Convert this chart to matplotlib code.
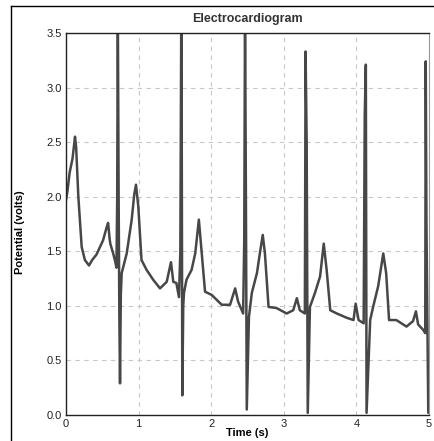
import matplotlib
matplotlib.use('Agg')
import matplotlib.pyplot as plt
from matplotlib.lines import Line2D

plt.rcParams['font.family'] = ['Liberation Sans', 'DejaVu Sans']

# ECG trace: time (s), potential (volts)
t = [0.00, 0.02, 0.05, 0.09, 0.124, 0.14, 0.17, 0.20, 0.216, 0.26, 0.317,
     0.36, 0.42, 0.51, 0.56, 0.58, 0.60, 0.61, 0.65, 0.68, 0.695,
     0.705, 0.714, 0.725, 0.735, 0.744, 0.755, 0.767, 0.836, 0.905, 0.94,
     0.964, 0.996, 1.04, 1.11, 1.20, 1.295, 1.387, 1.446, 1.478, 1.52,
     1.556, 1.575, 1.588, 1.594, 1.602, 1.615, 1.625, 1.66, 1.73, 1.78,
     1.83, 1.87, 1.915, 2.007, 2.145, 2.26, 2.33, 2.37, 2.44, 2.455,
     2.466, 2.478, 2.49, 2.52, 2.56, 2.63, 2.67, 2.71, 2.74, 2.79,
     2.90, 3.04, 3.13, 3.18, 3.22, 3.29, 3.30, 3.315, 3.33, 3.36,
     3.43, 3.50, 3.55, 3.59, 3.64, 3.73, 3.87, 3.96, 3.99, 4.03,
     4.10, 4.115, 4.13, 4.14, 4.19, 4.23, 4.30, 4.37, 4.41, 4.45,
     4.55, 4.69, 4.78, 4.82, 4.85, 4.92, 4.948, 4.955, 4.965, 4.99,
     5.00]
v = [1.97, 2.05, 2.22, 2.35, 2.55, 2.45, 2.00, 1.70, 1.54, 1.42, 1.37,
     1.42, 1.47, 1.60, 1.72, 1.76, 1.62, 1.57, 1.48, 1.40, 1.35,
     1.97, 3.70, 2.00, 0.90, 0.29, 1.10, 1.30, 1.48, 1.79, 2.02,
     2.11, 1.91, 1.42, 1.33, 1.24, 1.16, 1.22, 1.40, 1.22, 1.21,
     1.08, 1.50, 3.70, 2.63, 0.18, 1.00, 1.12, 1.24, 1.33, 1.48,
     1.79, 1.48, 1.13, 1.10, 1.01, 1.01, 1.16, 1.04, 0.93, 1.60,
     3.70, 2.00, 0.05, 0.90, 1.12, 1.30, 1.48, 1.65, 1.48, 0.99,
     0.98, 0.93, 0.96, 1.07, 0.96, 0.93, 3.33, 2.50, 0.02, 0.99,
     1.12, 1.27, 1.57, 1.33, 0.96, 0.93, 0.89, 0.87, 1.02, 0.87,
     0.84, 2.75, 3.21, 0.02, 0.87, 0.99, 1.18, 1.48, 1.30, 0.87,
     0.87, 0.81, 0.86, 0.95, 0.83, 0.78, 0.75, 3.24, 1.75, 0.02,
     0.05]

xticks = [0, 1, 2, 3, 4, 5]
yticks = [0.0, 0.5, 1.0, 1.5, 2.0, 2.5, 3.0, 3.5]

fig = plt.figure(figsize=(4.35, 4.41), dpi=100)
ax = fig.add_axes([66/435, 26/441, 363/435, 382/441])

ax.plot(t, v, color='#474747', lw=1.8)

ax.set_xlim(0, 5)
ax.set_ylim(0, 3.5)
ax.set_xticks(xticks)
ax.set_xticklabels([str(x) for x in xticks])
ax.set_yticks(yticks)
ax.set_yticklabels([f'{y:.1f}' for y in yticks])
ax.tick_params(length=0, labelsize=8, colors='#222222', pad=3)
ax.grid(True, color='#c8c8c8', ls=(0, (4, 4)), lw=0.8)
for side in ['left', 'top', 'bottom']:
    ax.spines[side].set_color('#222222')
    ax.spines[side].set_linewidth(1.0)
ax.spines['right'].set_color('#999999')

fig.text(247/435, 1 - 19/441, 'Electrocardiogram', ha='center', va='center',
         fontsize=9, fontweight='bold', color='#333333')
fig.text(247/435, 1 - 433/441, 'Time (s)', ha='center', va='center',
         fontsize=8, fontweight='bold')
fig.text(20.5/435, 1 - 232/441, 'Potential (volts)', ha='center', va='center',
         rotation=90, fontsize=8, fontweight='bold')

# outer frame: left and top edges only
fig.add_artist(Line2D([11/435, 11/435], [0, 1 - 6/441], color='black', lw=1.0,
                      transform=fig.transFigure))
fig.add_artist(Line2D([11/435, 1], [1 - 6/441, 1 - 6/441], color='black', lw=1.0,
                      transform=fig.transFigure))

fig.savefig('out.png', dpi=100)
